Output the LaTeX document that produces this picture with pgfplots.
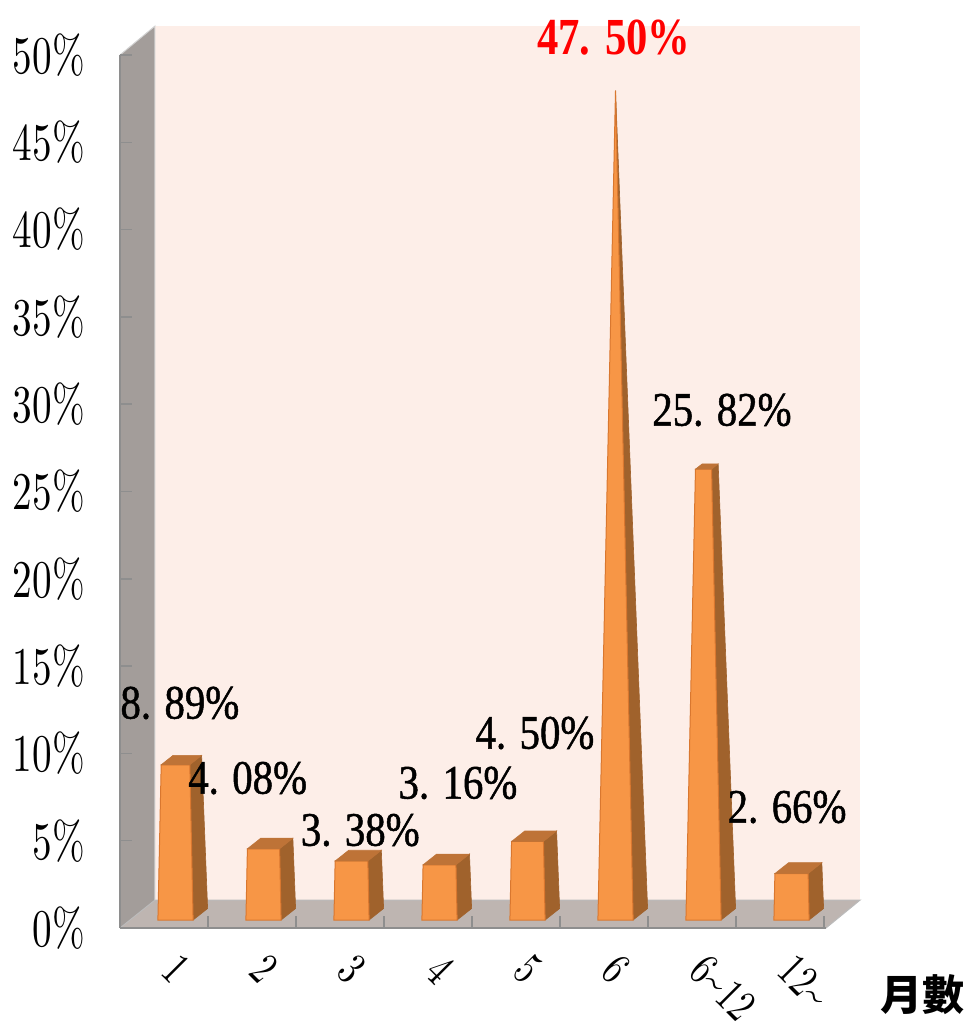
\documentclass[border=0pt]{standalone}
\usepackage{fontspec}
\usepackage{pgfplots}
\pgfplotsset{compat=1.18}
\newfontfamily\tickfont{lmroman10-regular.otf}[FakeStretch=0.74]
\newfontfamily\labfont{Liberation Serif}[FakeStretch=0.85, FakeBold=1]
\newfontfamily\redfont{Liberation Serif Bold}[FakeStretch=0.82]
\newfontfamily\cjk{Noto Sans CJK TC}
\definecolor{backc}{HTML}{FDEEE8}
\definecolor{leftc}{HTML}{A39D9A}
\definecolor{floorc}{HTML}{BEB5B1}
\definecolor{frontc}{HTML}{F79646}
\definecolor{sidec}{HTML}{A0622C}
\definecolor{topc}{HTML}{BE7337}
\definecolor{edgec}{HTML}{D9772F}
\definecolor{framec}{HTML}{8E8E8E}
\def\splitlab#1.#2\relax{#1.\hspace{0.28em}#2\%}
\newcommand\pbar[2]{%
 \pgfmathsetmacro\pF{1-#2/47.5}%
 \pgfmathsetmacro\pXL{#1-0.2}%
 \pgfmathsetmacro\pXR{#1+0.2}%
 \pgfmathsetmacro\pTL{#1-0.2*\pF}%
 \pgfmathsetmacro\pTR{#1+0.2*\pF}%
 \pgfmathsetmacro\pBX{#1+0.2+0.165}%
 \pgfmathsetmacro\pTRX{#1+0.2*\pF+0.165*\pF}%
 \pgfmathsetmacro\pTLX{#1-0.2*\pF+0.165*\pF}%
 \pgfmathsetmacro\pTY{#2+0.66*\pF}%
 \edef\pCmd{%
  \noexpand\addplot[draw=sidec, fill=sidec, line width=0.6pt] coordinates {(\pXR,0) (\pBX,0.66) (\pTRX,\pTY) (\pTR,#2)} -- cycle;%
  \noexpand\addplot[draw=edgec, fill=frontc, line width=1pt] coordinates {(\pXL,0) (\pXR,0) (\pTR,#2) (\pTL,#2)} -- cycle;%
  \noexpand\addplot[draw=topc, fill=topc, line width=0.6pt] coordinates {(\pTL,#2) (\pTR,#2) (\pTRX,\pTY) (\pTLX,\pTY)} -- cycle;%
 }\pCmd
}
\begin{document}
\begin{tikzpicture}
\path[use as bounding box] (0,0) rectangle (975pt,1032pt);
\begin{axis}[
  at={(120pt,104pt)}, anchor=south west,
  scale only axis, width=706pt, height=873pt,
  xmin=-0.6307, xmax=7.392, ymin=-0.458, ymax=49.542,
  clip=false, axis on top=true,
  axis x line*=bottom, axis y line*=left,
  axis line style={draw=framec, line width=2pt, -},
  tick align=inside, major tick length=12pt,
  tick style={draw=framec, line width=1.5pt},
  xtick={0.37,1.37,2.37,3.37,4.37,5.37,6.37,7.37},
  xticklabels={1,2,3,4,5,6,6\textasciitilde12,12\textasciitilde},
  xticklabel style={font=\tickfont\fontsize{46}{46}\selectfont, inner sep=0pt, xshift=-38pt, yshift=-35pt, rotate=-45, anchor=west},
  ytick={-0.458,4.542,9.542,14.542,19.542,24.542,29.542,34.542,39.542,44.542,49.542},
  yticklabels={0\%,5\%,10\%,15\%,20\%,25\%,30\%,35\%,40\%,45\%,50\%},
  yticklabel style={font=\tickfont\fontsize{53}{53}\selectfont, inner xsep=0pt, xshift=-35pt},
  xlabel={\cjk\bfseries 月數},
  xlabel style={at={(rel axis cs:1.136,-0.0767)}, anchor=center, font=\fontsize{42}{42}\selectfont},
]
% walls
\fill[leftc] (axis cs:-0.6307,-0.458) -- (axis cs:-0.233,1.145) -- (axis cs:-0.233,51.2) -- (axis cs:-0.6307,49.542) -- cycle;
\fill[backc] (axis cs:-0.233,1.145) rectangle (axis cs:7.78,51.2);
\fill[floorc] (axis cs:-0.6307,-0.458) -- (axis cs:-0.233,1.145) -- (axis cs:7.78,1.145) -- (axis cs:7.392,-0.458) -- cycle;
\draw[framec!60, line width=1pt] (axis cs:-0.6307,-0.458) -- (axis cs:-0.233,1.145) -- (axis cs:7.78,1.145) -- (axis cs:7.392,-0.458);
\draw[framec!40, line width=1pt] (axis cs:-0.233,1.145) -- (axis cs:-0.233,51.2) -- (axis cs:-0.6307,49.542);
% bars (category index, value in %)
\pbar{0}{8.89}
\pbar{1}{4.08}
\pbar{2}{3.38}
\pbar{3}{3.16}
\pbar{4}{4.50}
\pbar{5}{47.50}
\pbar{6}{25.82}
\pbar{7}{2.66}
% data labels
\addplot[only marks, mark=none, nodes near coords={\expandafter\splitlab\pgfplotspointmeta\relax},
  point meta=explicit symbolic, nodes near coords align=center,
  every node near coord/.append style={font=\labfont\fontsize{48}{48}\selectfont, text=black, inner sep=0pt}]
  table[meta=label] {
x y label
0.05 12.43 8.89
0.82 8.13 4.08
2.10 5.15 3.38
3.21 7.85 3.16
4.085 10.71 4.50
6.21 29.21 25.82
6.95 6.47 2.66
};
\addplot[only marks, mark=none, nodes near coords={\expandafter\splitlab\pgfplotspointmeta\relax},
  point meta=explicit symbolic, nodes near coords align=center,
  every node near coord/.append style={font=\redfont\fontsize{52}{52}\selectfont, text=red, inner sep=0pt}]
  table[meta=label] {
x y label
4.98 50.52 47.50
};
\end{axis}
\end{tikzpicture}
\end{document}
